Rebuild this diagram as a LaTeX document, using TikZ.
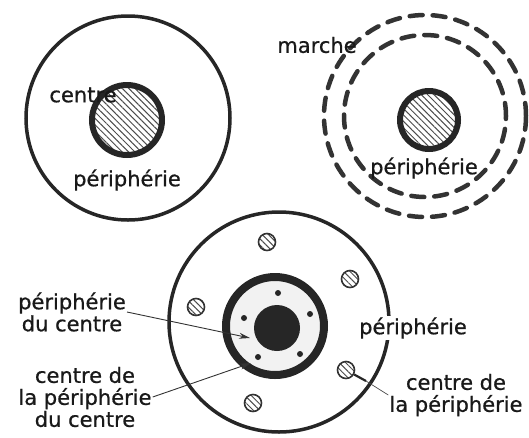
\documentclass[tikz,border=0pt]{standalone}
\usepackage{fontspec}
\setmainfont{DejaVu Sans}
\newfontfamily\lblfont{DejaVu Sans}[FakeBold=0.7]
\usetikzlibrary{patterns.meta}
\usetikzlibrary{arrows.meta}
\usetikzlibrary{positioning}

\tikzset{
  lbl/.style={font=\lblfont\fontsize{21}{22}\selectfont, inner sep=1pt, text=black!90},
  ring/.style={line width=3.5pt, draw=black!85},
  dashring/.style={line width=4.5pt, draw=black!80, dash pattern=on 13pt off 10pt, line cap=round},
  hatch/.style={pattern={Lines[angle=-45, distance=4.5pt, line width=1pt]}, pattern color=black!70},
  core/.style={line width=6pt, draw=black!85, hatch},
  sat/.style={circle, draw=black!80, line width=1.6pt, minimum size=17pt, inner sep=0pt, hatch},
  ptr/.style={-{Stealth[length=11pt,width=6pt]}, line width=0.9pt, draw=black!80}
}

\begin{document}
\begin{tikzpicture}[x=1pt,y=-1pt]
\useasboundingbox (0,0) rectangle (529,437);

% Left cell
\draw[ring] (128,118) circle[radius=102pt];
\draw[core] (127,120) circle[radius=35pt];
\node[lbl] (ctrA) at (83,95) {centre};
\node[lbl] (perA) at (127,180) {périphérie};

% Right cell (dashed)
\draw[dashring] (425,116) circle[radius=101pt];
\draw[dashring] (425,116) circle[radius=81pt];
\draw[core] (429,120) circle[radius=29pt];
\node[lbl] (mar) at (317,45) {marche};
\node[lbl] (perB) at (424,168) {périphérie};

% Bottom cell
\draw[ring] (279,322) circle[radius=110pt];
\draw[line width=8pt, draw=black!85, fill=black!5] (275,326) circle[radius=49pt];
\fill[black!85] (277,328) circle[radius=23pt];
\foreach \x/\y in {278/293, 244/318, 310/314, 300/354, 258/357}
  \fill[black!85] (\x,\y) circle[radius=3pt];

% Small hatched circles
\node[sat] (sat1) at (267,242) {};
\node[sat] (sat2) at (350,279) {};
\node[sat] (sat3) at (196,307) {};
\node[sat] (sat4) at (346,370) {};
\node[sat] (sat5) at (253,403) {};

% Labels
\node[lbl, align=center] (perC) at (72,312) {périphérie\\du centre};
\node[lbl, align=center] (ctrC) at (85,397) {centre de\\la périphérie\\du centre};
\node[lbl, fill=white] (perD) at (413,328) {périphérie};
\node[lbl, align=center] (ctrD) at (456,395) {centre de\\la périphérie};

% Pointers
\coordinate (tipA) at (250,338);
\coordinate (tipB) at (251,363);
\coordinate (tail) at (366,381);
\draw[ptr] (perC.east) -- (tipA);
\draw[ptr] (ctrC.east) -- (tipB);
\draw[line width=2.2pt, draw=black!85] (sat4) -- (tail);
\draw[line width=0.7pt, draw=black!70] (tail) -- (ctrD.west);
\end{tikzpicture}
\end{document}
